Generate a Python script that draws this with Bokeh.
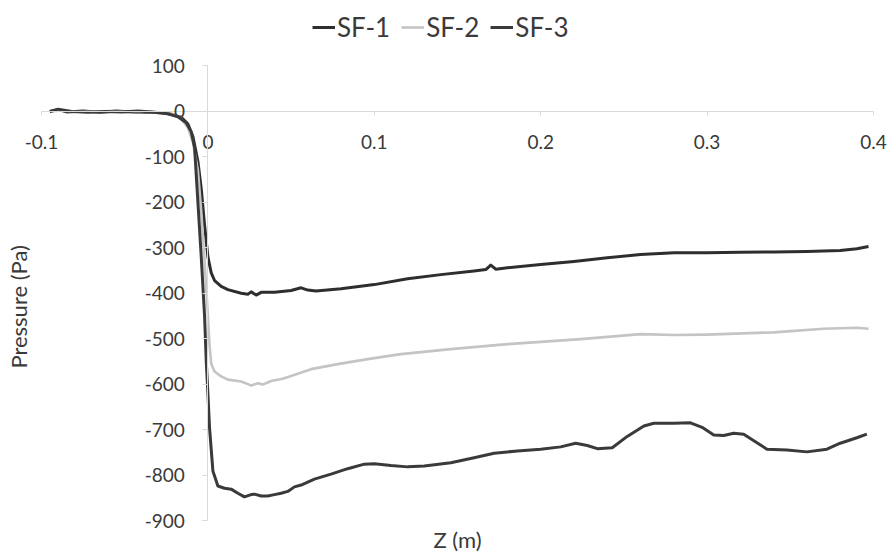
import math
from bokeh.plotting import figure
from bokeh.models import LinearAxis, FixedTicker, Legend, LegendItem, Label
from bokeh.embed import file_html
from bokeh.resources import INLINE

# ---- data ----
x_ticks = [-0.1, 0, 0.1, 0.2, 0.3, 0.4]
x_tick_labels = ["-0.1", "0", "0.1", "0.2", "0.3", "0.4"]
y_ticks = [100, 0, -100, -200, -300, -400, -500, -600, -700, -800, -900]
y_tick_labels = ["100", "0", "-100", "-200", "-300", "-400", "-500", "-600", "-700", "-800", "-900"]

series_names = ["SF-1", "SF-2", "SF-3"]

sf1_x = [-0.095, -0.09, -0.085, -0.075, -0.065, -0.055, -0.045, -0.035, -0.028, -0.022, -0.016,
         -0.012, -0.009, -0.006, -0.004, -0.002, 0.0, 0.002, 0.004, 0.008, 0.012, 0.02, 0.024,
         0.026, 0.029, 0.032, 0.04, 0.05, 0.056, 0.06, 0.065, 0.08, 0.1, 0.12, 0.14, 0.16, 0.167,
         0.17, 0.173, 0.18, 0.2, 0.22, 0.24, 0.26, 0.28, 0.3, 0.32, 0.34, 0.36, 0.38, 0.39, 0.397]
sf1_y = [0, 4, -1, 1, -2, 1, -1, -2, -3, -6, -13,
         -28, -55, -110, -170, -250, -320, -355, -372, -385, -392, -400, -402,
         -397, -404, -398, -398, -394, -388, -393, -395, -390, -381, -368, -359, -351, -348,
         -338, -347, -344, -337, -330, -322, -315, -311, -311, -310, -309, -308, -306, -302, -297]

sf2_x = [-0.095, -0.088, -0.08, -0.07, -0.06, -0.05, -0.04, -0.03, -0.022, -0.016, -0.012,
         -0.009, -0.006, -0.004, -0.002, 0.0, 0.001, 0.002, 0.004, 0.008, 0.012, 0.02, 0.024,
         0.026, 0.03, 0.033, 0.038, 0.045, 0.05, 0.062, 0.078, 0.096, 0.116, 0.146, 0.18, 0.2,
         0.224, 0.26, 0.28, 0.3, 0.34, 0.37, 0.39, 0.397]
sf2_y = [0, 2, 0, -1, 1, -1, 0, -2, -5, -16, -36,
         -68, -130, -220, -330, -450, -515, -555, -572, -583, -590, -594, -600,
         -603, -598, -601, -593, -588, -582, -567, -556, -545, -534, -523, -512, -507,
         -501, -490, -492, -491, -486, -478, -476, -478]

sf3_x = [-0.095, -0.09, -0.082, -0.072, -0.062, -0.052, -0.042, -0.032, -0.024, -0.018, -0.013,
         -0.01, -0.008, -0.006, -0.004, -0.002, -0.001, 0.0, 0.001, 0.003, 0.006, 0.01, 0.014,
         0.018, 0.022, 0.026, 0.028, 0.032, 0.036, 0.04, 0.044, 0.048, 0.052, 0.056, 0.064,
         0.074, 0.084, 0.094, 0.1, 0.11, 0.12, 0.13, 0.146, 0.16, 0.172, 0.186, 0.2, 0.212,
         0.221, 0.228, 0.234, 0.243, 0.252, 0.262, 0.268, 0.28, 0.29, 0.297, 0.304, 0.31,
         0.316, 0.322, 0.336, 0.348, 0.36, 0.372, 0.38, 0.39, 0.396]
sf3_y = [0, 5, 0, -2, 0, -1, 1, -2, -5, -12, -25,
         -45, -80, -200, -320, -450, -549, -620, -697, -791, -824, -829, -831,
         -840, -848, -843, -842, -846, -846, -843, -840, -836, -826, -822, -809,
         -798, -786, -776, -775, -779, -782, -780, -773, -762, -752, -747, -743, -738,
         -730, -735, -742, -740, -715, -692, -686, -686, -685, -695, -712, -713,
         -708, -710, -743, -745, -749, -743, -730, -718, -710]

colors = ["#2e2e2e", "#c4c4c4", "#3a3a3a"]
widths = [3, 2.6, 3]

FONT = "Lato"
TXT = "#3a3a3a"

W, H = 891, 556
# frame covers the whole canvas; ranges chosen so the data box sits like the reference
p = figure(width=W, height=H, x_range=(-0.12464, 0.41082), y_range=(-979.2, 244.1),
           x_axis_type=None, y_axis_type=None, output_backend="svg",
           toolbar_location=None, min_border=0)
p.min_border_left = p.min_border_right = p.min_border_top = p.min_border_bottom = 0
p.outline_line_color = None
p.background_fill_color = "white"

# axes crossing at zero
xa = LinearAxis(fixed_location=0, ticker=FixedTicker(ticks=x_ticks), bounds=(-0.1, 0.4),
                major_label_overrides=dict(zip(x_ticks, x_tick_labels)))
xa.axis_line_color = "#d9d9d9"
xa.major_tick_line_color = "#d9d9d9"
xa.major_tick_in = 0
xa.major_tick_out = 4
xa.minor_tick_line_color = None
xa.major_label_standoff = 20
xa.major_label_text_font = FONT
xa.major_label_text_font_size = "19px"
xa.major_label_text_color = TXT
p.add_layout(xa, "below")

ya = LinearAxis(fixed_location=0, ticker=FixedTicker(ticks=y_ticks), bounds=(-900, 100),
                major_label_overrides=dict(zip(y_ticks, y_tick_labels)))
ya.axis_line_color = "#d9d9d9"
ya.major_tick_line_color = "#d9d9d9"
ya.major_tick_in = 0
ya.major_tick_out = 5
ya.minor_tick_line_color = None
ya.major_label_standoff = 18
ya.major_label_text_font = FONT
ya.major_label_text_font_size = "19px"
ya.major_label_text_color = TXT
p.add_layout(ya, "left")

# axis titles
p.add_layout(Label(x=-0.1138, y=-430, text="Pressure (Pa)", angle=math.pi / 2,
                   text_align="center", text_baseline="middle", text_font=FONT,
                   text_font_size="22px", text_color=TXT))
p.add_layout(Label(x=0.15, y=-941, text="Z (m)", text_align="center",
                   text_baseline="middle", text_font=FONT, text_font_size="22px",
                   text_color=TXT))

renderers = []
for xs, ys, c, w in zip([sf1_x, sf2_x, sf3_x], [sf1_y, sf2_y, sf3_y], colors, widths):
    r = p.line(xs, ys, line_color=c, line_width=w, line_join="round")
    renderers.append(r)

legend = Legend(items=[LegendItem(label=n, renderers=[r]) for n, r in zip(series_names, renderers)],
                orientation="horizontal", location=(312, 513))
legend.label_text_font = FONT
legend.label_text_font_size = "26px"
legend.label_text_color = TXT
legend.glyph_width = 23
legend.label_standoff = 2
legend.spacing = 11
legend.padding = 0
legend.margin = 0
legend.border_line_color = None
legend.background_fill_alpha = 0
p.add_layout(legend, "center")

open("out.html", "w").write(file_html(p, INLINE))
